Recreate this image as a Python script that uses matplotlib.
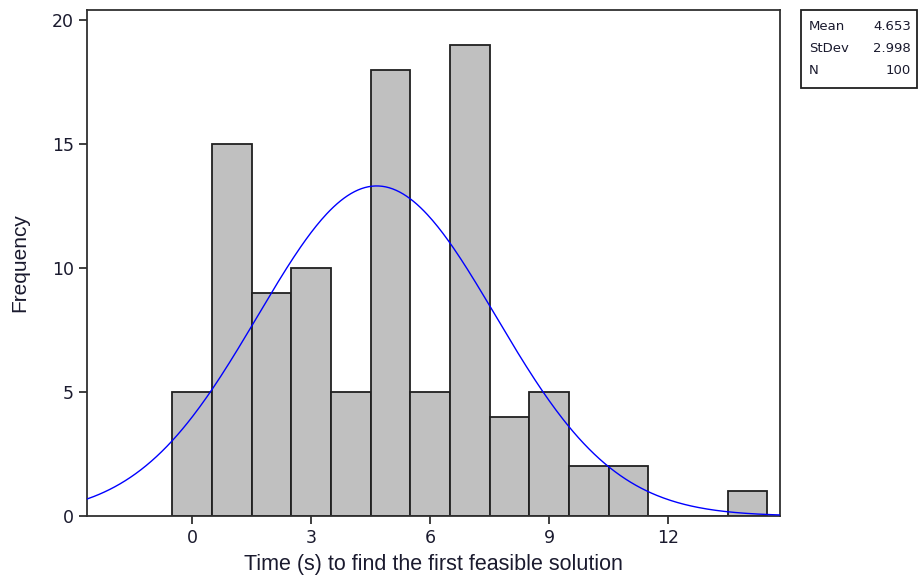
import numpy as np
import matplotlib.pyplot as plt
from matplotlib.patches import Rectangle

# histogram of times (bin centres, counts)
bin_centers = [0, 1, 2, 3, 4, 5, 6, 7, 8, 9, 10, 11, 12, 13, 14]
counts = [5, 15, 9, 10, 5, 18, 5, 19, 4, 5, 2, 2, 0, 0, 1]
mean = 4.653
stdev = 2.998
n = 100
x_ticks = [0, 3, 6, 9, 12]
y_ticks = [0, 5, 10, 15, 20]

fig = plt.figure(figsize=(9.23, 5.83), dpi=100)
ax = fig.add_axes([87 / 923, 1 - 516 / 583, (780 - 87) / 923, (516 - 10) / 583])

ax.bar(bin_centers, counts, width=1.0, color='#c0c0c0', edgecolor='#202020', linewidth=1.3, zorder=2)

xs = np.linspace(-2.65, 14.82, 400)
pdf = n * 1.0 / (stdev * np.sqrt(2 * np.pi)) * np.exp(-0.5 * ((xs - mean) / stdev) ** 2)
ax.plot(xs, pdf, color='#0000ff', linewidth=1.0, zorder=3)

ax.set_xlim(-2.65, 14.82)
ax.set_ylim(0, 20.4)
ax.set_xticks(x_ticks)
ax.set_yticks(y_ticks)
ax.tick_params(direction='out', length=6, width=1.3, color='#303030', labelsize=12.5, labelcolor='#1a1a2e')
for s in ax.spines.values():
    s.set_linewidth(1.3)
    s.set_color('#303030')

ax.set_xlabel('Time (s) to find the first feasible solution', fontsize=15.5, family='Liberation Sans',
              color='#1a1a2e', labelpad=5)
ax.set_ylabel('Frequency', fontsize=15, family='Liberation Sans', color='#1a1a2e', labelpad=16)

# stats box
box = Rectangle((801 / 923, 1 - 88 / 583), 116 / 923, 78 / 583, transform=fig.transFigure,
                facecolor='white', edgecolor='#202020', linewidth=1.3)
fig.add_artist(box)
rows = [('Mean', '%.3f' % mean), ('StDev', '%.3f' % stdev), ('N', '%d' % n)]
for i, (k, v) in enumerate(rows):
    yy = 1 - (26 + i * 22) / 583
    fig.text(809 / 923, yy, k, fontsize=9.5, va='center', ha='left', color='#1a1a2e')
    fig.text(911 / 923, yy, v, fontsize=9.5, va='center', ha='right', color='#1a1a2e')

fig.savefig('out.png', dpi=100)
